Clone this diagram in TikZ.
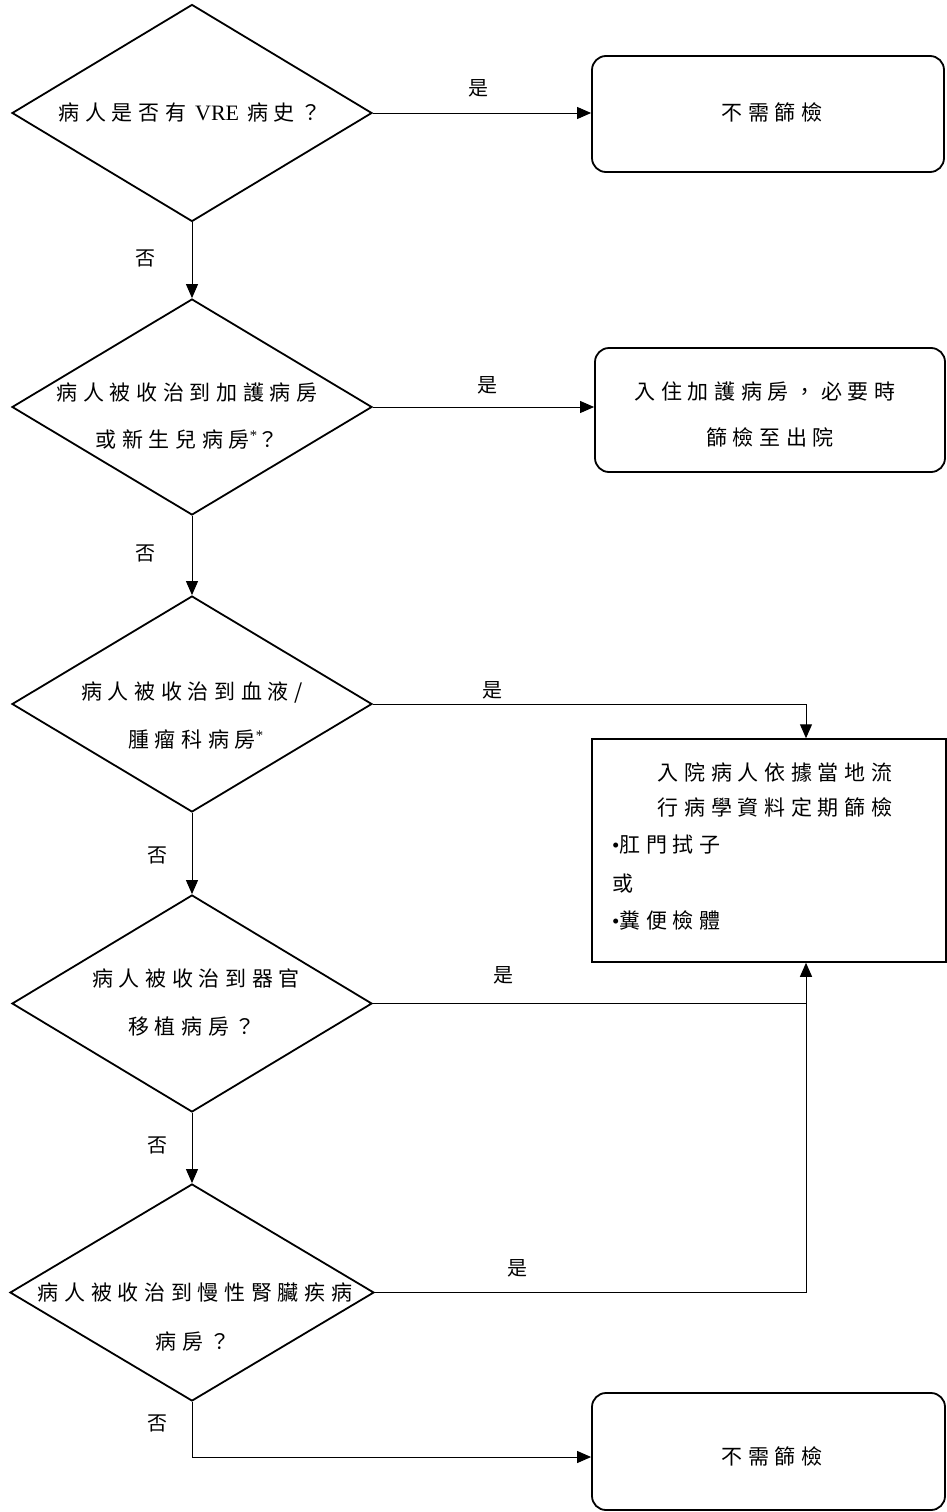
\documentclass[tikz,border=0pt]{standalone}
\usepackage{fontspec}
\setmainfont{Liberation Serif}
\newfontfamily\cjk{Noto Sans CJK TC}[LetterSpace=27]
\usetikzlibrary{shapes.geometric,arrows.meta}
\begin{document}
\begin{tikzpicture}[x=1pt,y=-1pt,
  dec/.style={draw, shape=diamond, line width=1.8pt, inner sep=0pt, minimum width=360pt, minimum height=217pt},
  rbox/.style={draw, rectangle, rounded corners=14pt, line width=1.8pt, inner sep=0pt},
  sbox/.style={draw, rectangle, line width=1.5pt, inner sep=0pt},
  txt/.style={inner sep=0pt, align=center, font=\cjk\fontsize{21}{47}\selectfont},
  lab/.style={inner sep=0pt, font=\cjk\fontsize{20}{20}\selectfont},
  conn/.style={line width=1pt},
  arr/.style={line width=1pt, -{Triangle[length=14pt,width=12pt]}}
]
\useasboundingbox (0,0) rectangle (947,1512);

% diamonds
\node[dec] (d1) at (192,113) {};
\node[dec, minimum height=216pt] (d2) at (192,407) {};
\node[dec, minimum height=216pt] (d3) at (192,704) {};
\node[dec] (d4) at (192,1003.5) {};
\node[dec, minimum width=364pt] (d5) at (192,1292.5) {};

% diamond texts
\node[txt] (t1) at (190,113) {病人是否有\kern 9pt{\rmfamily\fontsize{22}{22}\selectfont VRE}\kern 8pt病史？};
\node[txt] (t2a) at (187,393) {病人被收治到加護病房};
\node[txt] (t2b) at (187,440) {或新生兒病房\textsuperscript{\rmfamily *}？};
\node[txt] (t3a) at (192,693) {病人被收治到血液/};
\node[txt] (t3b) at (196,740) {腫瘤科病房\textsuperscript{\rmfamily *}};
\node[txt] (t4a) at (196,978) {病人被收治到器官};
\node[txt] (t4b) at (192,1027) {移植病房？};
\node[txt] (t5a) at (195,1293) {病人被收治到慢性腎臟疾病};
\node[txt] (t5b) at (193,1342) {病房？};

% boxes
\node[rbox, minimum width=352pt, minimum height=116pt] (b1) at (768,114) {};
\node[txt] (b1t) at (772,112) {不需篩檢};
\node[rbox, minimum width=350pt, minimum height=124pt] (b2) at (770,410) {};
\node[txt] (b2a) at (765,392) {入住加護病房，必要時};
\node[txt] (b2b) at (770,437) {篩檢至出院};
\node[sbox, minimum width=354pt, minimum height=223pt] (b3) at (769,850.5) {};
\node[txt] (b3a) at (775,772) {入院病人依據當地流};
\node[txt] (b3b) at (775,807) {行病學資料定期篩檢};
\node[txt, anchor=west] (b3c) at (612,845) {{\rmfamily •}肛門拭子};
\node[txt, anchor=west] (b3d) at (612,884) {或};
\node[txt, anchor=west] (b3e) at (612,920) {{\rmfamily •}糞便檢體};
\node[rbox, minimum width=353pt, minimum height=117pt] (b4) at (768.5,1451.5) {};
\node[txt] (b4t) at (772,1456) {不需篩檢};

% junction coordinates
\coordinate (j3) at (806,704);
\coordinate (j4) at (806,1003.5);
\coordinate (j5) at (806,1292.5);
\coordinate (j6) at (192,1457);

% connectors
\draw[arr] (d1.east) -- (d1.east -| b1.west);
\draw[arr] (d2.east) -- (d2.east -| b2.west);
\draw[arr] (d1.south) -- (d2.north);
\draw[arr] (d2.south) -- (d3.north);
\draw[arr] (d3.south) -- (d4.north);
\draw[arr] (d4.south) -- (d5.north);
\draw[arr] (d3.east) -- (j3) -- (j3 |- b3.north);
\draw[conn] (d4.east) -- (j4);
\draw[arr] (d5.east) -- (j5) -- (j5 |- b3.south);
\draw[arr] (d5.south) -- (j6) -- (j6 -| b4.west);

% yes / no labels
\node[lab] (y1) at (478,88) {是};
\node[lab] (y2) at (487,385) {是};
\node[lab] (y3) at (492,690) {是};
\node[lab] (y4) at (503,975) {是};
\node[lab] (y5) at (517,1268) {是};
\node[lab] (n1) at (145,258) {否};
\node[lab] (n2) at (145,553) {否};
\node[lab] (n3) at (157,855) {否};
\node[lab] (n4) at (157,1145) {否};
\node[lab] (n5) at (157,1423) {否};
\end{tikzpicture}
\end{document}
